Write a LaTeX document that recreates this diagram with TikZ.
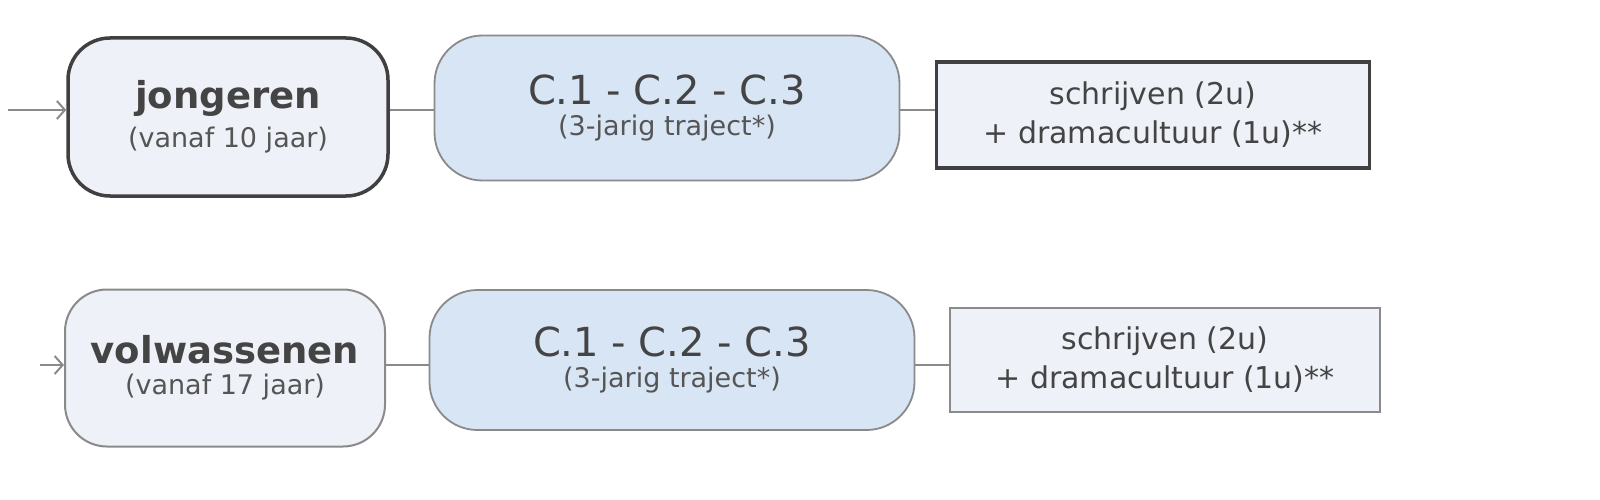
\documentclass[tikz,border=0pt]{standalone}
\usepackage{fontspec}
\setmainfont{DejaVu Sans}
\usetikzlibrary{arrows.meta}
\definecolor{txt}{HTML}{444444}
\definecolor{subt}{HTML}{555555}
\definecolor{lf}{HTML}{EEF2F8}
\definecolor{cf}{HTML}{D8E5F5}
\definecolor{ln}{HTML}{8A8A8A}
\newcommand{\ttl}[1]{{\fontsize{37}{40}\selectfont\bfseries\color{txt}#1}}
\newcommand{\ctl}[1]{{\fontsize{40}{40}\selectfont\color{txt}#1}}
\newcommand{\sbt}[1]{{\fontsize{27}{40}\selectfont\color{subt}#1}}
\newcommand{\rtx}[1]{{\fontsize{30}{40}\selectfont\color{txt}#1}}
\begin{document}
\begin{tikzpicture}[x=1pt,y=-1pt,
  pill/.style={rounded corners=42pt,fill=lf,draw=#1,align=center,inner sep=0pt},
  cpill/.style={rounded corners=48pt,fill=cf,draw=ln,line width=1.8pt,align=center,inner sep=0pt},
  rbox/.style={fill=lf,draw=#1,align=center,inner sep=0pt},
  conn/.style={draw=ln,line width=2.5pt},
  ent/.style={draw=ln,line width=2pt,-{Straight Barb[length=8pt,width=18pt]}}]
\useasboundingbox (0,0) rectangle (1600,500);
% row 1
\node[pill=black!75,line width=3.5pt,minimum width=320pt,minimum height=158pt] (j) at (228,117)
 {\ttl{jongeren}\\[9pt]\sbt{(vanaf 10 jaar)}};
\node[cpill,minimum width=465pt,minimum height=145pt] (c1) at (667,108)
 {\ctl{C.1 - C.2 - C.3}\\[9pt]\sbt{(3-jarig traject*)}};
\node[rbox=black!75,line width=3.5pt,minimum width=433pt,minimum height=106pt] (r1) at (1153,115)
 {\rtx{schrijven (2u)}\\[9pt]\rtx{+ dramacultuur (1u)**}};
\coordinate (s1) at (8,110);
\draw[ent] (s1) -- (j.west|-s1);
\draw[conn] (j.east|-s1) -- (c1.west|-s1);
\draw[conn] (c1.east|-s1) -- (r1.west|-s1);
% row 2
\node[pill=ln,line width=2pt,minimum width=320pt,minimum height=157pt] (v) at (225,368)
 {\ttl{volwassenen}\\[9pt]\sbt{(vanaf 17 jaar)}};
\node[cpill,minimum width=485pt,minimum height=140pt] (c2) at (672,360)
 {\ctl{C.1 - C.2 - C.3}\\[9pt]\sbt{(3-jarig traject*)}};
\node[rbox=ln,line width=2pt,minimum width=430pt,minimum height=104pt] (r2) at (1165,360)
 {\rtx{schrijven (2u)}\\[9pt]\rtx{+ dramacultuur (1u)**}};
\coordinate (s2) at (40,365);
\draw[ent] (s2) -- (v.west|-s2);
\draw[conn] (v.east|-s2) -- (c2.west|-s2);
\draw[conn] (c2.east|-s2) -- (r2.west|-s2);
\end{tikzpicture}
\end{document}
